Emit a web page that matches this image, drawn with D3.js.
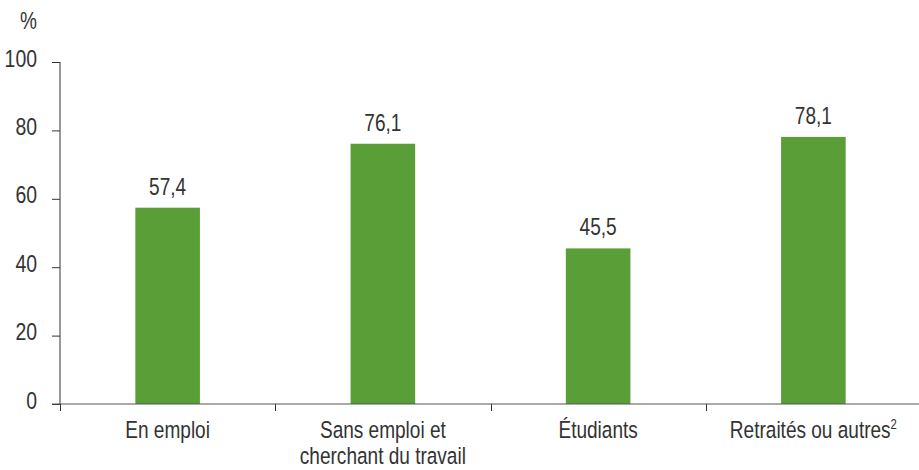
<!DOCTYPE html>
<html>
<head>
<meta charset="utf-8">
<script src="https://cdn.jsdelivr.net/npm/d3@7"></script>
<style>
  body { margin: 0; background: #fff; }
  svg { font-family: "Liberation Sans", Arial, sans-serif; }
</style>
</head>
<body>
<svg width="919" height="470"></svg>
<script>
var categories = [["En emploi"], ["Sans emploi et", "cherchant du travail"], ["Étudiants"], ["Retraités ou autres", "2"]];
var values = [57.4, 76.1, 45.5, 78.1];
var valueLabels = ["57,4", "76,1", "45,5", "78,1"];
var yTicks = [0, 20, 40, 60, 80, 100];

var svg = d3.select("svg");
var margin = { top: 62, right: 0, bottom: 66, left: 60 },
    width = +svg.attr("width") - margin.left - margin.right + 2,
    height = +svg.attr("height") - margin.top - margin.bottom;

var g = svg.append("g")
    .attr("transform", `translate(${margin.left}, ${margin.top})`);

var x = d3.scaleBand()
    .domain(d3.range(categories.length))
    .range([0, width])
    .paddingInner(0.7)
    .paddingOuter(0.35);

var y = d3.scaleLinear()
    .domain([0, 100])
    .range([height, 0]);

var textColor = "#333";
var sx = 0.81; // narrow the font, the original uses a condensed face

// text drawn at (px, py), squeezed horizontally
function narrowText(sel, px, py) {
    return sel.attr("transform", (d, i) => `translate(${px(d, i)}, ${py(d, i)}) scale(${sx}, 1)`);
}

// bars
g.selectAll("rect.bar")
    .data(values)
    .enter().append("rect")
        .attr("class", "bar")
        .attr("x", (d, i) => x(i))
        .attr("y", d => y(d))
        .attr("width", x.bandwidth())
        .attr("height", d => y(0) - y(d))
        .attr("fill", "#5a9e38");

// value labels
g.selectAll("text.val")
    .data(values)
    .enter().append("text")
        .attr("class", "val")
        .attr("text-anchor", "middle")
        .attr("font-size", 23.5)
        .attr("fill", textColor)
        .text((d, i) => valueLabels[i])
        .call(narrowText, (d, i) => x(i) + x.bandwidth() / 2, d => y(d) - 13);

// y axis
var yAxis = d3.axisLeft(y).tickValues(yTicks).tickSize(8).tickPadding(15).tickFormat(d3.format("d"));
var ya = g.append("g").call(yAxis);
ya.select(".domain").attr("stroke", textColor).attr("d", `M0,${height}V0`);
ya.selectAll(".tick line").attr("stroke", textColor);
ya.selectAll(".tick text")
    .attr("x", null)
    .attr("dy", null)
    .attr("font-size", 24)
    .attr("font-family", null)
    .attr("fill", textColor)
    .call(narrowText, () => -23, () => 4);

svg.append("text")
    .attr("text-anchor", "end")
    .attr("font-size", 23.5)
    .attr("fill", textColor)
    .text("%")
    .attr("transform", `translate(37, 29) scale(${sx}, 1)`);

// x axis baseline and separators
var step = x.step();
var bounds = d3.range(categories.length).map(i => x(i) - step * 0.35);
g.append("line")
    .attr("x1", -8).attr("x2", width)
    .attr("y1", y(0)).attr("y2", y(0))
    .attr("stroke", "#555").attr("stroke-width", 1.2);

g.selectAll("line.sep")
    .data(bounds)
    .enter().append("line")
        .attr("class", "sep")
        .attr("x1", d => Math.round(d) + 0.5).attr("x2", d => Math.round(d) + 0.5)
        .attr("y1", y(0)).attr("y2", y(0) + 7)
        .attr("stroke", textColor);

// category labels
var labels = g.selectAll("text.cat")
    .data(categories)
    .enter().append("text")
        .attr("class", "cat")
        .attr("text-anchor", "middle")
        .attr("font-size", 23.5)
        .attr("fill", textColor)
        .call(narrowText, (d, i) => x(i) + x.bandwidth() / 2, () => y(0) + 34);

labels.each(function(d, i) {
    var t = d3.select(this);
    if (i === 3) {
        t.append("tspan").text(d[0]);
        t.append("tspan").attr("font-size", 14).attr("dy", -9).text(d[1]);
    } else {
        d.forEach((line, j) => {
            t.append("tspan")
                .attr("x", 0)
                .attr("dy", j === 0 ? 0 : 26.5)
                .text(line);
        });
    }
});
</script>
</body>
</html>
